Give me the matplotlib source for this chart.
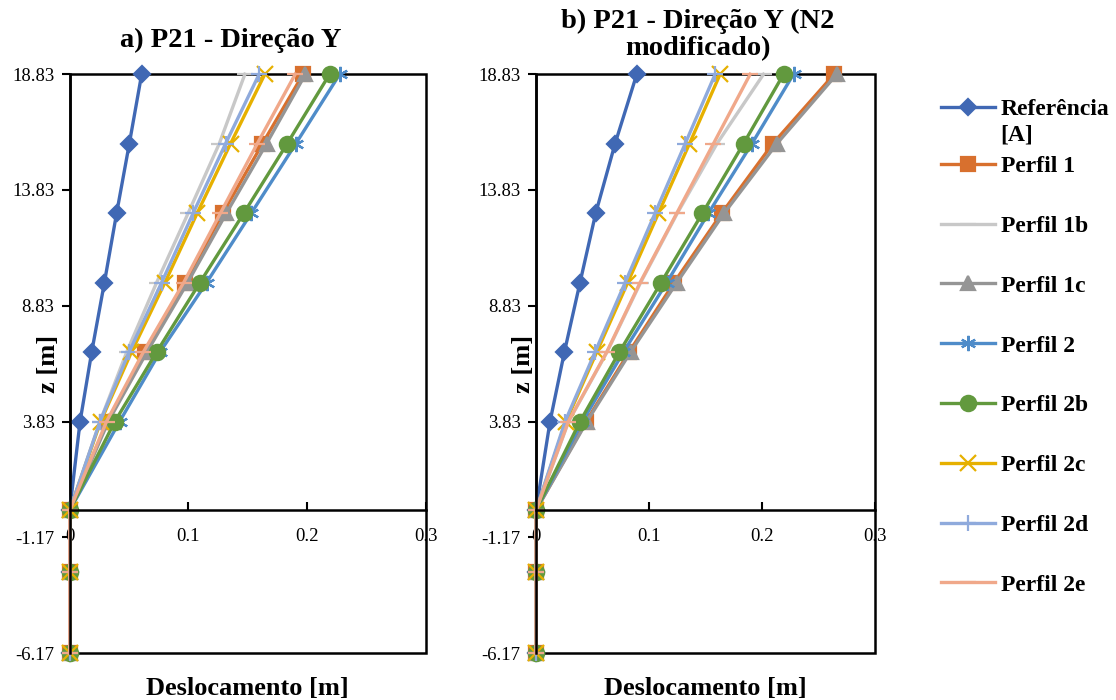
import numpy as np
import matplotlib
matplotlib.use('Agg')
import matplotlib.pyplot as plt
from matplotlib.patches import Rectangle

plt.rcParams['font.family'] = ['Liberation Serif', 'DejaVu Serif']

# heights of the levels [m]
z = [18.83, 15.83, 12.83, 9.83, 6.83, 3.83, 0.0, -2.67, -6.17]
yticks = [-6.17, -1.17, 3.83, 8.83, 13.83, 18.83]
ytlabels = ['-6.17', '-1.17', '3.83', '8.83', '13.83', '18.83']
xticks = [0, 0.1, 0.2, 0.3]
xtlabels = ['0', '0.1', '0.2', '0.3']

labels = ['Referência\n[A]', 'Perfil 1', 'Perfil 1b', 'Perfil 1c', 'Perfil 2',
          'Perfil 2b', 'Perfil 2c', 'Perfil 2d', 'Perfil 2e']

# a) P21 - direcao Y
ref_a = [0.0606, 0.0502, 0.0395, 0.0292, 0.0185, 0.0087, 0, 0, 0]
p1_a = [0.1966, 0.1624, 0.1290, 0.0970, 0.0634, 0.0317, 0, 0, 0]
p1b_a = [0.1476, 0.1260, 0.0998, 0.0732, 0.0480, 0.0255, 0, 0, 0]
p1c_a = [0.1986, 0.1658, 0.1320, 0.0993, 0.0650, 0.0325, 0, 0, 0]
p2_a = [0.2275, 0.1905, 0.1530, 0.1153, 0.0760, 0.0420, 0, 0, 0]
p2b_a = [0.2190, 0.1832, 0.1467, 0.1097, 0.0732, 0.0380, 0, 0, 0]
p2c_a = [0.1644, 0.1355, 0.1074, 0.0802, 0.0520, 0.0260, 0, 0, 0]
p2d_a = [0.1596, 0.1313, 0.1040, 0.0774, 0.0500, 0.0255, 0, 0, 0]
p2e_a = [0.1900, 0.1580, 0.1270, 0.0960, 0.0620, 0.0310, 0, 0, 0]

# b) P21 - direcao Y (N2 modificado)
ref_b = [0.0891, 0.0699, 0.0528, 0.0389, 0.0251, 0.0124, 0, 0, 0]
p1_b = [0.2637, 0.2094, 0.1643, 0.1221, 0.0823, 0.0442, 0, 0, 0]
p1b_b = [0.2012, 0.1600, 0.1250, 0.0925, 0.0628, 0.0288, 0, 0, 0]
p1c_b = [0.2660, 0.2130, 0.1664, 0.1245, 0.0836, 0.0450, 0, 0, 0]
p2_b = [0.2277, 0.1909, 0.1525, 0.1156, 0.0773, 0.0410, 0, 0, 0]
p2b_b = [0.2189, 0.1835, 0.1472, 0.1106, 0.0737, 0.0389, 0, 0, 0]
p2c_b = [0.1628, 0.1357, 0.1083, 0.0811, 0.0537, 0.0265, 0, 0, 0]
p2d_b = [0.1584, 0.1319, 0.1053, 0.0788, 0.0522, 0.0257, 0, 0, 0]
p2e_b = [0.1894, 0.1569, 0.1245, 0.0920, 0.0625, 0.0286, 0, 0, 0]

series_a = [ref_a, p1_a, p1b_a, p1c_a, p2_a, p2b_a, p2c_a, p2d_a, p2e_a]
series_b = [ref_b, p1_b, p1b_b, p1c_b, p2_b, p2b_b, p2c_b, p2d_b, p2e_b]

colors = ['#4068B4', '#D8702E', '#C8C8C8', '#959595', '#4F8CC9',
          '#62993E', '#E6B000', '#8FAADC', '#F0A88A']
markers = ['D', 's', '_', '^', (6, 2, 0), 'o', 'x', '+', '_']
msizes = [8, 10, 12, 10, 11, 11, 11, 12, 12]


def draw_panel(ax, series, title, title_x, title_y, zlab_x):
    handles = []
    for vals, col, mk, ms in zip(series, colors, markers, msizes):
        ln, = ax.plot(vals, z, color=col, lw=2.4, marker=mk, ms=ms,
                      mfc=col, mec=col, mew=1.6, clip_on=False)
        handles.append(ln)

    # x axis crosses at z = 0 (set before the ticks, it resets them)
    ax.spines['bottom'].set_position(('data', 0))
    for s in ['top', 'right']:
        ax.spines[s].set_visible(False)
    for s in ['left', 'bottom']:
        ax.spines[s].set_linewidth(1.8)
    ax.add_patch(Rectangle((0, 0), 1, 1, transform=ax.transAxes,
                           fill=False, lw=1.8, ec='black', clip_on=False,
                           zorder=0))

    ax.set_xlim(0, 0.3)
    ax.set_ylim(-6.17, 18.83)
    ax.set_yticks(yticks)
    ax.set_yticklabels(ytlabels)
    ax.set_xticks(xticks)
    ax.set_xticklabels(xtlabels)
    ax.tick_params(axis='x', direction='in', length=6, width=1.5, pad=13,
                   labelsize=13.5)
    ax.tick_params(axis='y', direction='out', length=6, width=1.5, pad=5,
                   labelsize=13.5)

    ax.set_xlabel('Deslocamento [m]', fontsize=19, fontweight='bold')
    ax.xaxis.set_label_coords(0.5, -0.042)
    ax.set_ylabel('z [m]', fontsize=19, fontweight='bold')
    ax.yaxis.set_label_coords(zlab_x, 0.5)
    ax.text(title_x, title_y, title, transform=ax.transAxes, ha='center',
            va='bottom', fontsize=20.5, fontweight='bold', linespacing=1.12)
    return handles


fig = plt.figure(figsize=(11.16, 7.0), dpi=100)
ax1 = fig.add_axes([0.0625, 0.067, 0.319, 0.827])
ax2 = fig.add_axes([0.4803, 0.067, 0.304, 0.827])

hnd = draw_panel(ax1, series_a, 'a) P21 - Direção Y', 0.452, 1.037, -0.026)
draw_panel(ax2, series_b, 'b) P21 - Direção Y (N2\nmodificado)', 0.478,
           1.022, -0.003)

legprop = dict(family='Liberation Serif', weight='bold', size=17)
leg1 = fig.legend(hnd[:1], ['Referência'], loc='upper left',
                  bbox_to_anchor=(0.824, 0.89), frameon=False,
                  handlelength=2.3, handletextpad=0.25, prop=legprop)
fig.text(0.8965, 0.807, '[A]', fontsize=17, fontweight='bold',
         va='center', ha='left')
leg2 = fig.legend(hnd[1:], labels[1:], loc='upper left',
                  bbox_to_anchor=(0.824, 0.808), frameon=False,
                  handlelength=2.3, handletextpad=0.25, labelspacing=1.62,
                  prop=legprop)

fig.savefig('out.png', dpi=100)
